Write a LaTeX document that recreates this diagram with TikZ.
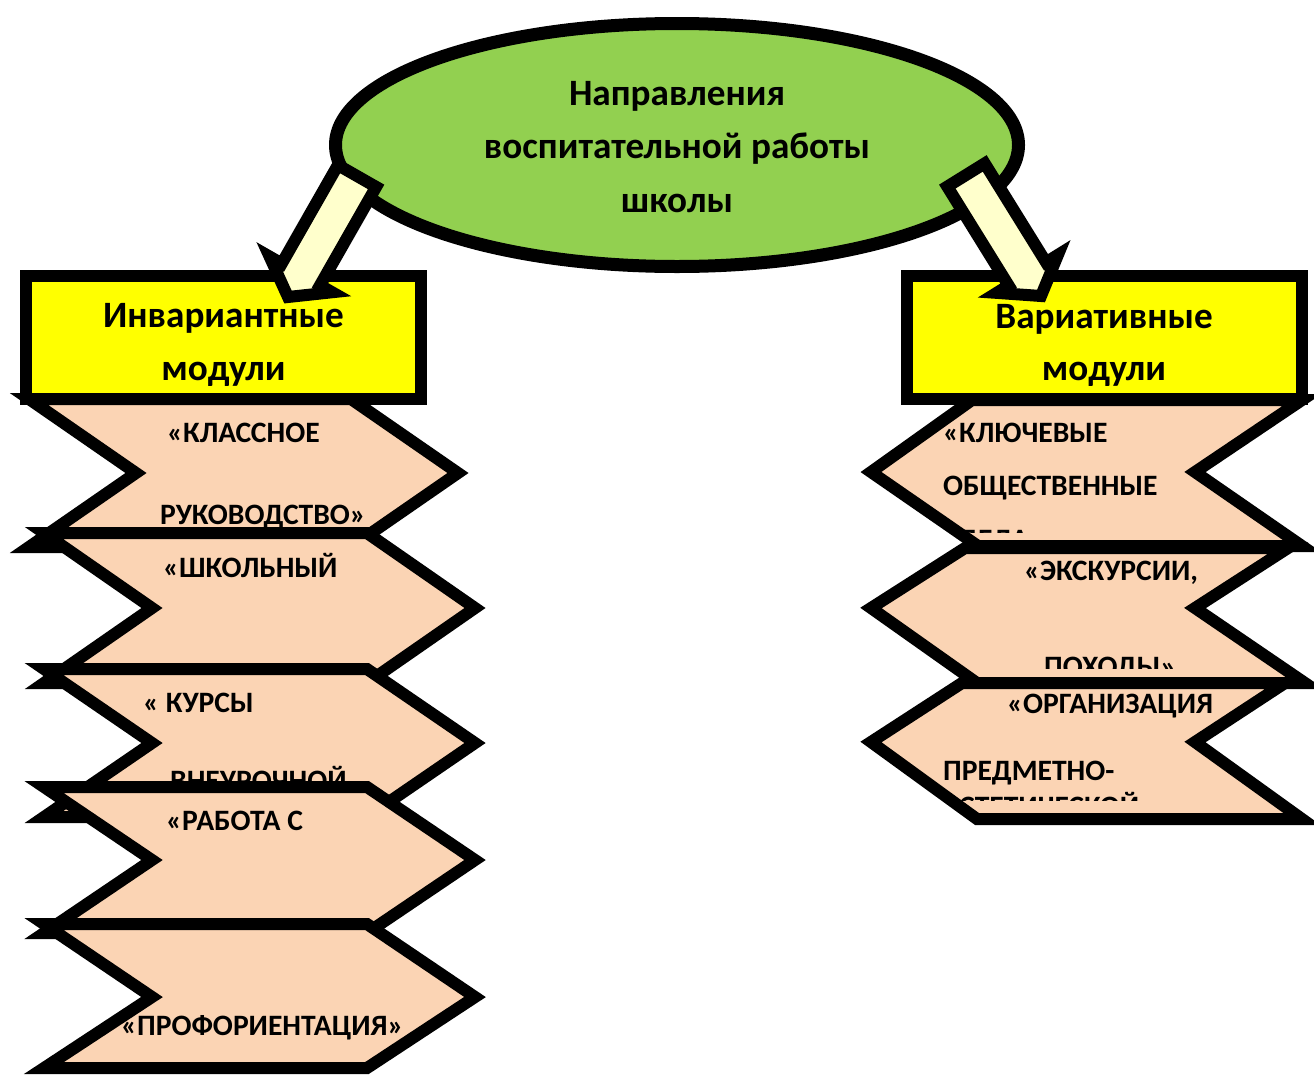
\documentclass[tikz,border=0pt]{standalone}
\usepackage{fontspec}
\setmainfont{Carlito}
\usetikzlibrary{calc,shapes.geometric}
\definecolor{elgreen}{HTML}{92D050}
\definecolor{boxyellow}{HTML}{FFFF00}
\definecolor{peach}{HTML}{FBD4B4}
\definecolor{arrowfill}{HTML}{FFFFCC}
\tikzset{
  chev/.style={draw=black, line width=12pt, fill=peach, line join=miter},
  modbox/.style={draw=black, line width=12pt, fill=boxyellow, rectangle, inner sep=0pt,
     minimum width=395pt, minimum height=123pt},
  blockarrow/.style={draw=black, line width=12pt, fill=arrowfill, line join=miter},
  bigtxt/.style={font=\fontsize{37.2}{44}\selectfont\bfseries, inner sep=0pt, anchor=base},
  chtxt/.style={font=\fontsize{29.6}{34}\selectfont\bfseries, inner sep=0pt, anchor=base west},
}
\newcommand{\blockarr}[2]{%
  \coordinate (hb) at ($(#2)!26pt!(#1)$);
  \draw[blockarrow] ($(#1)!22pt!90:(#2)$) -- ($(hb)!22pt!90:(#2)$) -- ($(hb)!36pt!90:(#2)$)
     -- (#2) -- ($(hb)!36pt!-90:(#2)$) -- ($(hb)!22pt!-90:(#2)$) -- ($(#1)!22pt!-90:(#2)$) -- cycle;}
\begin{document}
\begin{tikzpicture}[x=1pt, y=-1pt]
\useasboundingbox (0,0) rectangle (1314,1074);
% central ellipse
\node[draw=black, ellipse, line width=13pt, fill=elgreen, minimum width=683pt, minimum height=243pt, inner sep=0pt] (dir) at (677,145) {};
\node[bigtxt] (dir1) at (677,105) {Направления};
\node[bigtxt] (dir2) at (677,158) {воспитательной работы};
\node[bigtxt] (dir3) at (677,212) {школы};
% module boxes
\node[modbox] (inv) at (223.5,337.5) {};
\node[bigtxt] (inv1) at (223.5,327) {Инвариантные};
\node[bigtxt] (inv2) at (223.5,380) {модули};
\node[modbox] (var) at (1104,337.5) {};
\node[bigtxt] (var1) at (1104,328) {Вариативные};
\node[bigtxt] (var2) at (1104,380) {модули};
% left chevrons
\draw[chev] (29,399) -- (351,399) -- (458,473) -- (351,547) -- (29,547) -- (136,473) -- cycle;
\node[chtxt] (l1a) at (167,442) {«КЛАССНОЕ};
\node[chtxt] (l1b) at (160,524) {РУКОВОДСТВО»};
\draw[chev] (44,533) -- (367,533) -- (475,608) -- (367,683) -- (44,683) -- (152,608) -- cycle;
\node[chtxt] (l2a) at (163,577) {«ШКОЛЬНЫЙ};
\draw[chev] (44,669) -- (367,669) -- (475,743) -- (367,817) -- (44,817) -- (152,743) -- cycle;
\node[chtxt] (l3a) at (143,712) {« КУРСЫ};
\node[chtxt] (l3b) at (170,790) {ВНЕУРОЧНОЙ};
\draw[chev] (44,787) -- (367,787) -- (475,860) -- (367,933) -- (44,933) -- (152,860) -- cycle;
\node[chtxt] (l4a) at (166,830) {«РАБОТА С};
\draw[chev] (44,924) -- (367,924) -- (475,997) -- (367,1068) -- (44,1068) -- (152,997) -- cycle;
\node[chtxt] (l5a) at (121,1035) {«ПРОФОРИЕНТАЦИЯ»};
% right chevrons
\draw[chev] (972,400) -- (1302,400) -- (1195,472) -- (1302,546) -- (978,546) -- (871,472) -- cycle;
\node[chtxt] (r1a) at (943,442) {«КЛЮЧЕВЫЕ};
\node[chtxt] (r1b) at (943,495) {ОБЩЕСТВЕННЫЕ};
\begin{scope}
  \clip (900,500) rectangle (1250,532);
  \node[chtxt] (r1c) at (958,549) {ДЕЛА»};
\end{scope}
\draw[chev] (965,548) -- (1288,548) -- (1195,608) -- (1305,683) -- (977,683) -- (871,608) -- cycle;
\node[chtxt] (r2a) at (1024,580) {«ЭКСКУРСИИ,};
\begin{scope}
  \clip (900,600) rectangle (1250,668);
  \node[chtxt] (r2b) at (1044,676) {ПОХОДЫ»};
\end{scope}
\draw[chev] (962,683) -- (1285,683) -- (1195,742) -- (1302,819) -- (977,819) -- (871,742) -- cycle;
\node[chtxt] (r3a) at (1007,713) {«ОРГАНИЗАЦИЯ};
\node[chtxt] (r3b) at (943,780) {ПРЕДМЕТНО-};
\begin{scope}
  \clip (900,785) rectangle (1250,800.5);
  \node[chtxt] (r3c) at (943,816) {ЭСТЕТИЧЕСКОЙ};
\end{scope}
% block arrows
\coordinate (la-s) at (357,176);
\coordinate (la-t) at (288,297);
\blockarr{la-s}{la-t}
\coordinate (ra-s) at (966,175);
\coordinate (ra-t) at (1041,296);
\blockarr{ra-s}{ra-t}
\end{tikzpicture}
\end{document}
